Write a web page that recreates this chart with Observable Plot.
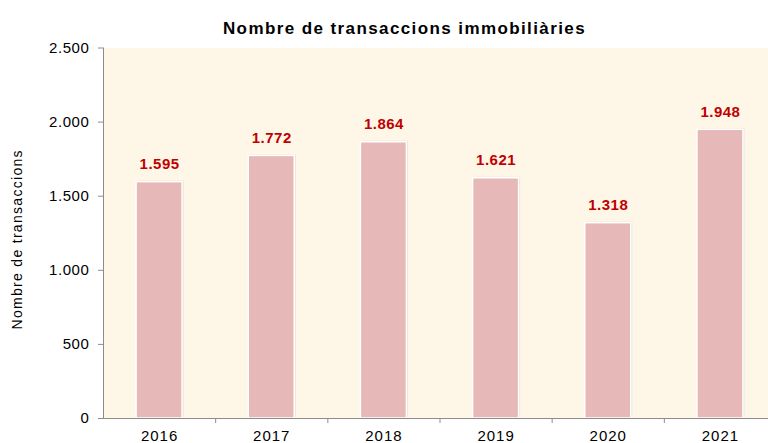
<!DOCTYPE html>
<html>
<head>
<meta charset="utf-8">
<script src="https://cdn.jsdelivr.net/npm/d3@7"></script>
<script src="https://cdn.jsdelivr.net/npm/@observablehq/plot@0.6"></script>
<style>
  html, body { margin: 0; padding: 0; background: #fff; overflow: hidden; }
  #chart svg { display: block; }
  #chart g[aria-label="y-axis tick label"] text { letter-spacing: 0.6px; }
  #chart g[aria-label="x-axis tick label"] text { letter-spacing: 1px; }
  #chart .vlabel text { letter-spacing: 0.5px; }
  #chart .ctitle text { letter-spacing: 1.4px; }
  #chart .ylab text { letter-spacing: 1.3px; }
</style>
</head>
<body>
<div id="chart"></div>
<script>
const years = [2016, 2017, 2018, 2019, 2020, 2021];
const transactions = [1595, 1772, 1864, 1621, 1318, 1948];
const yTicks = [0, 500, 1000, 1500, 2000, 2500];
const title = "Nombre de transaccions immobiliàries";
const yLabel = "Nombre de transaccions";

const locale = d3.formatLocale({decimal: ",", thousands: ".", grouping: [3], currency: ["", "€"]});
const fmt = locale.format(",d");

const data = years.map((y, i) => ({year: y, value: transactions[i]}));
const half = 0.205;
const font = "'Liberation Sans', Arial, sans-serif";

const chart = Plot.plot({
  width: 780,
  height: 443,
  marginLeft: 103,
  marginRight: 4,
  marginTop: 47.5,
  marginBottom: 25,
  style: {fontFamily: font, background: "#fff", overflow: "visible", maxWidth: "none"},
  x: {type: "linear", domain: [2015.5, 2021.5], axis: null},
  y: {type: "linear", domain: [0, 2500], axis: null},
  marks: [
    Plot.frame({fill: "#FEF7E7", stroke: null}),
    // shadow
    Plot.rectY(data, {x1: d => d.year - half, x2: d => d.year + half, y1: 0, y2: "value", fill: "#d8d0c8", dx: 1.5, dy: -1, fillOpacity: 0.6}),
    Plot.rectY(data, {x1: d => d.year - half, x2: d => d.year + half, y1: 0, y2: "value", fill: "#E6B8B7", stroke: "#fff", strokeWidth: 1.5}),
    Plot.text(data, {x: "year", y: "value", text: d => fmt(d.value), dy: -18, fill: "#C00000", fontWeight: "bold", fontSize: 15, className: "vlabel"}),
    // y axis
    Plot.ruleX([2015.5], {stroke: "#8c8c8c", strokeWidth: 1}),
    Plot.axisY({ticks: yTicks, tickFormat: fmt, tickSize: 5, tickPadding: 9, fontSize: 15, stroke: "#8c8c8c", fill: "#000", label: null}),
    // x axis
    Plot.ruleY([0], {stroke: "#8c8c8c", strokeWidth: 1}),
    Plot.axisX({ticks: years.map(y => y + 0.5), tickFormat: () => "", tickSize: 5, stroke: "#8c8c8c", label: null}),
    Plot.axisX({ticks: years, tickFormat: d => String(d), tickSize: 0, tickPadding: 12, fontSize: 15, fill: "#000", label: null}),
    // titles
    Plot.text([title], {frameAnchor: "top-left", textAnchor: "middle", dx: 301, dy: -26, text: d => d, fontSize: 17, fontWeight: "bold", fill: "#000", className: "ctitle"}),
    Plot.text([yLabel], {frameAnchor: "left", textAnchor: "middle", dx: -86, dy: 6, rotate: -90, text: d => d, fontSize: 14, fill: "#000", className: "ylab"})
  ]
});
document.getElementById("chart").appendChild(chart);
</script>
</body>
</html>
